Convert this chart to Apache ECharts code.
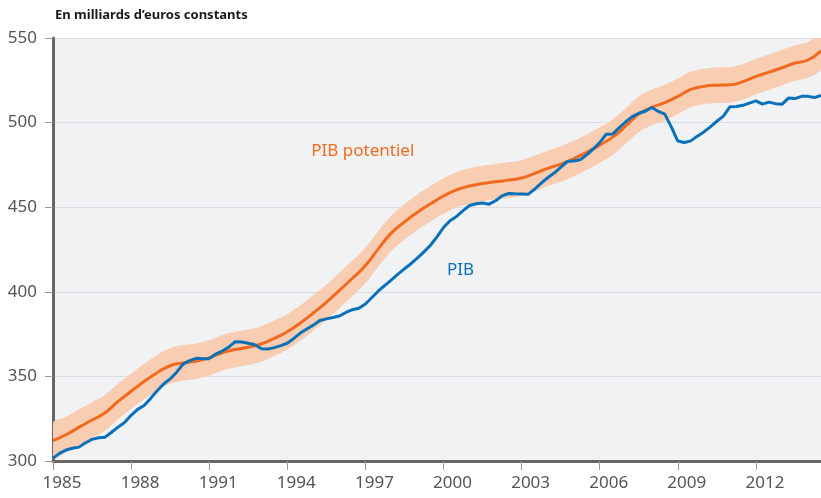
<!DOCTYPE html>
<html>
<head>
<meta charset="utf-8">
<title>PIB et PIB potentiel</title>
<script src="https://cdn.jsdelivr.net/npm/echarts@6/dist/echarts.min.js"></script>
<style>
  html, body { margin: 0; padding: 0; background: #fff; }
  #chart { width: 821px; height: 498px; }
</style>
</head>
<body>
<div id="chart"></div>
<script>
// PIB trimestriel, 1985T1 -> 2014T3 (un point par trimestre)
var pibStart = 1985
var pibValues = [
  301.7, 304.5, 306.5, 307.5, 308.2, 310.8, 312.8, 313.7,
  314.1, 317.0, 320.0, 322.8, 327.0, 330.5, 332.8, 337.0,
  341.5, 345.5, 348.5, 352.5, 357.3, 359.3, 360.7, 360.5,
  360.5, 363.2, 365.0, 367.3, 370.5, 370.3, 369.6, 368.7,
  366.4, 366.2, 367.0, 368.2, 369.6, 372.5, 375.6, 378.0,
  380.3, 383.0, 384.0, 384.8, 385.7, 387.8, 389.4, 390.3,
  392.8, 396.6, 400.5, 403.8, 407.0, 410.4, 413.6, 416.6,
  420.0, 423.6, 427.5, 432.5, 438.0, 442.0, 444.5, 448.0,
  451.0, 452.0, 452.5, 451.8, 453.8, 456.7, 458.1, 457.9,
  457.8, 457.6, 460.6, 464.2, 467.4, 470.2, 473.5, 477.0,
  477.3, 478.0, 481.0, 484.3, 488.2, 493.1, 493.2, 497.0,
  500.5, 503.5, 505.5, 506.7, 508.9, 506.6, 505.0, 497.5,
  489.1, 488.2, 489.2, 492.0, 494.5, 497.5, 500.8, 503.8,
  509.3, 509.5, 510.2, 511.5, 512.8, 510.9, 512.1, 511.2,
  510.8, 514.5, 514.2, 515.5, 515.5, 514.8, 516.1
]

// PIB potentiel, lu tous les semestres
var potStart = 1985
var potValues = [
  312.1, 315.5, 320.0, 324.2, 328.5, 335.2, 341.2, 347.0,
  352.2, 356.3, 358.0, 359.0, 361.0, 364.0, 365.9, 367.2,
  369.2, 372.5, 376.4, 381.6, 387.5, 393.8, 400.8, 408.0,
  415.5, 425.5, 434.8, 441.3, 447.0, 452.0, 456.6, 460.2,
  462.5, 464.0, 465.0, 466.0, 467.3, 470.0, 472.9, 475.5,
  478.7, 482.5, 486.7, 491.4, 498.0, 505.0, 509.0, 511.8,
  515.5, 519.6, 521.4, 522.1, 522.3, 524.2, 527.3, 529.8,
  532.4, 535.2, 537.0, 542.4
]
// demi-largeur de la bande d'incertitude autour du potentiel
var bandHalf = 10.5

var yearTicks = [1985, 1988, 1991, 1994, 1997, 2000, 2003, 2006, 2009, 2012]

var pibData = pibValues.map(function (v, i) { return [pibStart + i / 4, v] })
var potData = potValues.map(function (v, i) { return [potStart + i / 2, v] })
var bandLow = potValues.map(function (v, i) { return [potStart + i / 2, v - bandHalf] })
var bandHigh = potValues.map(function (v, i) { return [potStart + i / 2, v + bandHalf] })

var font = 'Noto Sans, DejaVu Sans, sans-serif'
var chart = echarts.init(document.getElementById('chart'))

// la bande : polygone haut puis bas, tracé en pixels via l'axe
function renderBand (params, api) {
  var pts = []
  bandHigh.forEach(function (p) { pts.push(api.coord(p)) })
  for (var i = bandLow.length - 1; i >= 0; i--) pts.push(api.coord(bandLow[i]))
  return {
    type: 'polygon',
    shape: { points: pts, smooth: 0.3 },
    style: { fill: '#f8cdb1' }
  }
}

var option = {
  animation: false,
  backgroundColor: '#fff',
  title: {
    text: 'En milliards d’euros constants',
    left: 50,
    top: 4,
    textStyle: {
      fontFamily: font,
      fontSize: 13,
      fontWeight: 'bold',
      color: '#1a1a1a'
    }
  },
  grid: {
    left: 53,
    right: 0,
    top: 38,
    bottom: 37,
    show: true,
    backgroundColor: '#f1f2f4',
    borderWidth: 0
  },
  xAxis: {
    type: 'value',
    min: 1985,
    max: 2014.5,
    interval: 3,
    axisLine: {
      show: true,
      onZero: false,
      lineStyle: { color: '#666', width: 3 }
    },
    axisTick: {
      show: true,
      length: 9,
      lineStyle: { color: '#999', width: 1 }
    },
    splitLine: { show: false },
    axisLabel: {
      margin: 14,
      padding: [0, 0, 0, 18],
      showMaxLabel: false,
      fontFamily: font,
      fontSize: 17,
      color: '#555',
      formatter: function (v) {
        return yearTicks.indexOf(v) >= 0 ? String(v) : ''
      }
    }
  },
  yAxis: {
    type: 'value',
    min: 300,
    max: 550,
    interval: 50,
    axisLine: {
      show: true,
      lineStyle: { color: '#666', width: 3 }
    },
    axisTick: {
      show: true,
      length: 8,
      lineStyle: { color: '#999', width: 1 }
    },
    splitLine: {
      show: true,
      lineStyle: { color: '#dcdde0', width: 1 }
    },
    axisLabel: {
      margin: 16,
      fontFamily: font,
      fontSize: 17,
      color: '#555'
    }
  },
  series: [
    {
      name: 'bande',
      type: 'custom',
      renderItem: renderBand,
      data: [[1985, 300]],
      clip: true,
      silent: true,
      z: 2
    },
    {
      name: 'PIB potentiel',
      type: 'line',
      smooth: true,
      symbol: 'none',
      lineStyle: { color: '#f26a1f', width: 3 },
      data: potData,
      z: 3
    },
    {
      name: 'PIB',
      type: 'line',
      symbol: 'none',
      lineStyle: { color: '#0a71b9', width: 3 },
      data: pibData,
      z: 4
    }
  ]
}
chart.setOption(option)

// étiquettes des courbes, placées en coordonnées de données
var labPot = chart.convertToPixel({ gridIndex: 0 }, [1996.9, 483])
var labPib = chart.convertToPixel({ gridIndex: 0 }, [2000.65, 412.5])
chart.setOption({
  graphic: [
    {
      type: 'text',
      x: labPot[0],
      y: labPot[1],
      style: {
        text: 'PIB potentiel',
        fill: '#f26a1f',
        font: '17px ' + font,
        align: 'center',
        verticalAlign: 'middle'
      },
      z: 10
    },
    {
      type: 'text',
      x: labPib[0],
      y: labPib[1],
      style: {
        text: 'PIB',
        fill: '#0a71b9',
        font: '17px ' + font,
        align: 'center',
        verticalAlign: 'middle'
      },
      z: 10
    }
  ]
})
</script>
</body>
</html>
